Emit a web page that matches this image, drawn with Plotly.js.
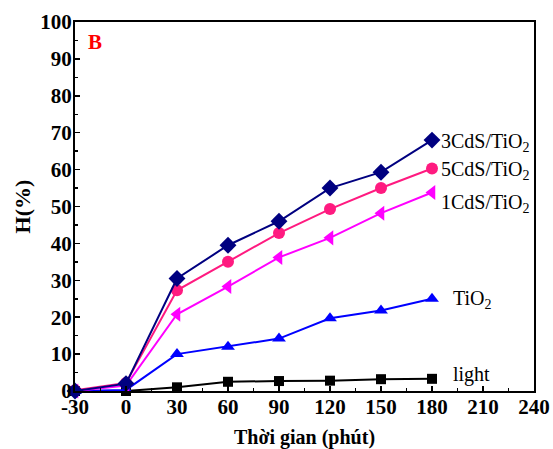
<!DOCTYPE html>
<html><head><meta charset="utf-8">
<script src="https://cdn.plot.ly/plotly-3.0.1.min.js"></script>
<style>body{margin:0;padding:0;background:#fff}#chart{width:553px;height:449px}</style>
</head><body><div id="chart"></div>
<script>
const time = [-30, 0, 30, 60, 90, 120, 150, 180];
const cds3 = [0, 2, 30.5, 39.5, 46, 55, 59.3, 68];
const cds5 = [0.2, 2.2, 27.3, 35, 42.8, 49.3, 55, 60.3];
const cds1 = [0, 1.5, 20.8, 28.3, 36.2, 41.5, 48.2, 53.8];
const tio2 = [0, 0.3, 10, 12, 14.2, 19.7, 21.8, 25];
const light = [0, 0, 1, 2.5, 2.7, 2.8, 3.2, 3.3];
const xTicks = [-30, 0, 30, 60, 90, 120, 150, 180, 210, 240];
const yTicks = [0, 10, 20, 30, 40, 50, 60, 70, 80, 90, 100];

const F = 'Liberation Serif, Times New Roman, serif';
function tr(y, color, symbol, size) {
  return {x: time, y: y, mode: 'lines+markers', cliponaxis: false,
    line: {color: color, width: 2}, marker: {color: color, symbol: symbol, size: size}};
}
const data = [
  tr(light, '#000000', 'square', 10),
  tr(tio2, '#0000ff', 'triangle-up', 12),
  tr(cds1, '#ff00ff', 'triangle-left', 13),
  tr(cds5, '#ff1a80', 'circle', 12),
  tr(cds3, '#000080', 'diamond', 13)
];
const ann = (x, y, text, extra) => Object.assign({xref: 'paper', yref: 'paper', x: x, y: y,
  text: text, showarrow: false, xanchor: 'left', yanchor: 'middle',
  font: {family: F, size: 20, color: '#000'}}, extra || {});
function px(xp, yp) { return [(xp - 75) / (534 - 75), (391 - yp) / (391 - 22)]; }
const a = [];
let p;
p = px(86, 42); a.push(ann(p[0], p[1], '<b>B</b>', {font: {family: F, size: 21, color: '#ff0000'}}));
p = px(439, 142); a.push(ann(p[0], p[1], '3CdS/TiO<sub>2</sub>'));
p = px(439, 170); a.push(ann(p[0], p[1], '5CdS/TiO<sub>2</sub>'));
p = px(439, 203); a.push(ann(p[0], p[1], '1CdS/TiO<sub>2</sub>'));
p = px(451, 299); a.push(ann(p[0], p[1], 'TiO<sub>2</sub>'));
p = px(451, 374); a.push(ann(p[0], p[1], 'light'));

const layout = {
  width: 553, height: 449,
  margin: {l: 75, r: 19, t: 22, b: 58},
  paper_bgcolor: '#fff', plot_bgcolor: '#fff',
  showlegend: false,
  font: {family: F, color: '#000'},
  xaxis: {range: [-30, 240], tickvals: xTicks, ticktext: xTicks.map(String),
    showgrid: false, zeroline: false, showline: true, mirror: true, linecolor: '#000', linewidth: 2,
    ticks: 'inside', ticklen: 5, tickwidth: 1.5, tickcolor: '#000', ticklabelstandoff: -4,
    minor: {dtick: 15, tick0: -30, ticks: 'inside', ticklen: 3, tickcolor: '#000', showgrid: false},
    tickfont: {family: F, size: 21, color: '#000', weight: 'bold'},
    title: {text: '<b>Thời gian (phút)</b>', font: {family: F, size: 20, color: '#000'}, standoff: 16}},
  yaxis: {range: [0, 100], tickvals: yTicks, ticktext: yTicks.map(String),
    showgrid: false, zeroline: false, showline: true, mirror: true, linecolor: '#000', linewidth: 2,
    ticks: 'inside', ticklen: 5, tickwidth: 1.5, tickcolor: '#000', ticklabelstandoff: -3,
    minor: {dtick: 5, tick0: 0, ticks: 'inside', ticklen: 3, tickcolor: '#000', showgrid: false},
    tickfont: {family: F, size: 21, color: '#000', weight: 'bold'},
    title: {text: '<b>H(%)</b>', font: {family: F, size: 22, color: '#000'}, standoff: 4}},
  annotations: a
};
Plotly.newPlot('chart', data, layout, {staticPlot: true, displayModeBar: false});
</script></body></html>
